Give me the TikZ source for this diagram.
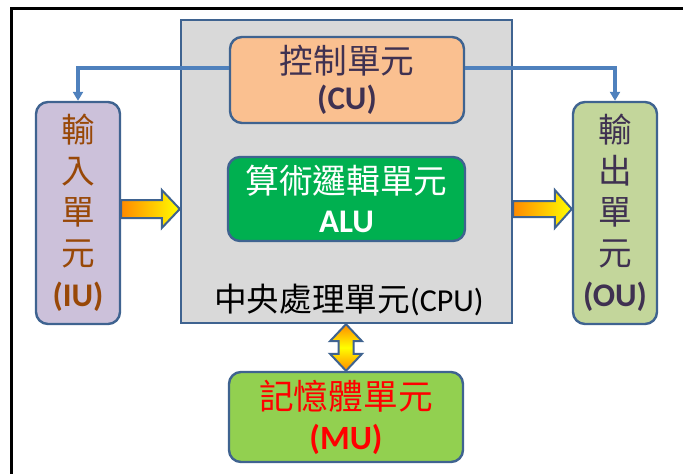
\documentclass[tikz,border=0pt]{standalone}
\usepackage{fontspec}
\setmainfont{Carlito}
\newfontfamily\cjk[Scale=1.02]{Noto Sans CJK TC}
\usetikzlibrary{arrows.meta,calc}
\definecolor{boxblue}{HTML}{3F6390}
\definecolor{connblue}{HTML}{4F81BD}
\definecolor{cpufill}{HTML}{D9D9D9}
\definecolor{cufill}{HTML}{FAC090}
\definecolor{alufill}{HTML}{00B050}
\definecolor{iufill}{HTML}{CCC1DA}
\definecolor{oufill}{HTML}{C3D69B}
\definecolor{mufill}{HTML}{92D050}
\definecolor{darktext}{HTML}{3F3151}
\definecolor{browntext}{HTML}{984807}
\definecolor{arrorange}{HTML}{FF8A00}
\definecolor{arryellow}{HTML}{FFFF00}
\tikzset{
  unitbox/.style={draw=boxblue, line width=2.4pt, rounded corners=12pt, align=center, inner sep=0pt},
  conn/.style={draw=connblue, line width=3.2pt, -{Triangle[width=10pt,length=9pt]}},
  harrow/.style={draw=boxblue, line width=2pt, left color=arrorange, right color=arryellow},
  varrow/.style={draw=boxblue, line width=2pt, top color=arrorange, bottom color=arrorange, middle color=arryellow},
}
\begin{document}
\begin{tikzpicture}[x=1pt,y=-1pt]
\useasboundingbox (0,0) rectangle (683,474);
\draw[line width=3pt] (11,476) -- (11,8) -- (685,8);
% CPU
\node[draw=boxblue, line width=2.4pt, fill=cpufill, minimum width=331pt, minimum height=303pt, inner sep=0pt] (cpu) at (346.5,171.5) {};
\node[font=\fontsize{32}{36}\selectfont, text=black, inner sep=0pt] (cpulabel) at (349,300) {{\cjk 中央處理單元}(CPU)};
% CU
\node[unitbox, fill=cufill, minimum width=234pt, minimum height=86pt, text=darktext,
      font=\fontsize{33}{36}\selectfont] (cu) at (347,80)
      {{\cjk 控制單元}\\\textbf{(CU)}};
% ALU
\node[unitbox, fill=alufill, minimum width=237pt, minimum height=84pt, text=white,
      font=\fontsize{33}{39}\selectfont] (alu) at (346.5,199)
      {{\cjk 算術邏輯單元}\\\textbf{ALU}};
% IU
\node[unitbox, fill=iufill, minimum width=84pt, minimum height=222pt, text=browntext,
      font=\fontsize{33}{41}\selectfont] (iu) at (78,213)
      {{\cjk 輸}\\{\cjk 入}\\{\cjk 單}\\{\cjk 元}\\\textbf{(IU)}};
% OU
\node[unitbox, fill=oufill, minimum width=84pt, minimum height=222pt, text=darktext,
      font=\fontsize{33}{41}\selectfont] (ou) at (615,213)
      {{\cjk 輸}\\{\cjk 出}\\{\cjk 單}\\{\cjk 元}\\\textbf{(OU)}};
% MU
\node[unitbox, fill=mufill, minimum width=234pt, minimum height=90pt, text=red,
      font=\fontsize{34}{40}\selectfont] (mu) at (346,417)
      {{\cjk 記憶體單元}\\\textbf{(MU)}};
% connectors from CU
\draw[conn] ([yshift=12pt]cu.west) -| (iu.north);
\draw[conn] ([yshift=12pt]cu.east) -| (ou.north);
% block arrows
\path (0,209) coordinate (yl);
\coordinate (ia) at (iu.east |- yl);
\coordinate (ib) at (cpu.west |- yl);
\shadedraw[harrow] ($(ia)+(0,-9)$) -- ($(ib)+(-18,-9)$) -- ($(ib)+(-18,-19)$) -- (ib)
  -- ($(ib)+(-18,19)$) -- ($(ib)+(-18,9)$) -- ($(ia)+(0,9)$) -- cycle;
\coordinate (oa) at (cpu.east |- yl);
\coordinate (ob) at (ou.west |- yl);
\shadedraw[harrow] ($(oa)+(0,-8)$) -- ($(ob)+(-17,-8)$) -- ($(ob)+(-17,-19)$) -- (ob)
  -- ($(ob)+(-17,19)$) -- ($(ob)+(-17,8)$) -- ($(oa)+(0,8)$) -- cycle;
\coordinate (vt) at (mu.north |- cpu.south);
\coordinate (vb) at (mu.north);
\shadedraw[varrow] (vt) -- ($(vt)+(16,17)$) -- ($(vt)+(7.5,17)$) -- ($(vb)+(7.5,-17)$)
  -- ($(vb)+(16,-17)$) -- (vb) -- ($(vb)+(-16,-17)$) -- ($(vb)+(-7.5,-17)$)
  -- ($(vt)+(-7.5,17)$) -- ($(vt)+(-16,17)$) -- cycle;
\end{tikzpicture}
\end{document}
